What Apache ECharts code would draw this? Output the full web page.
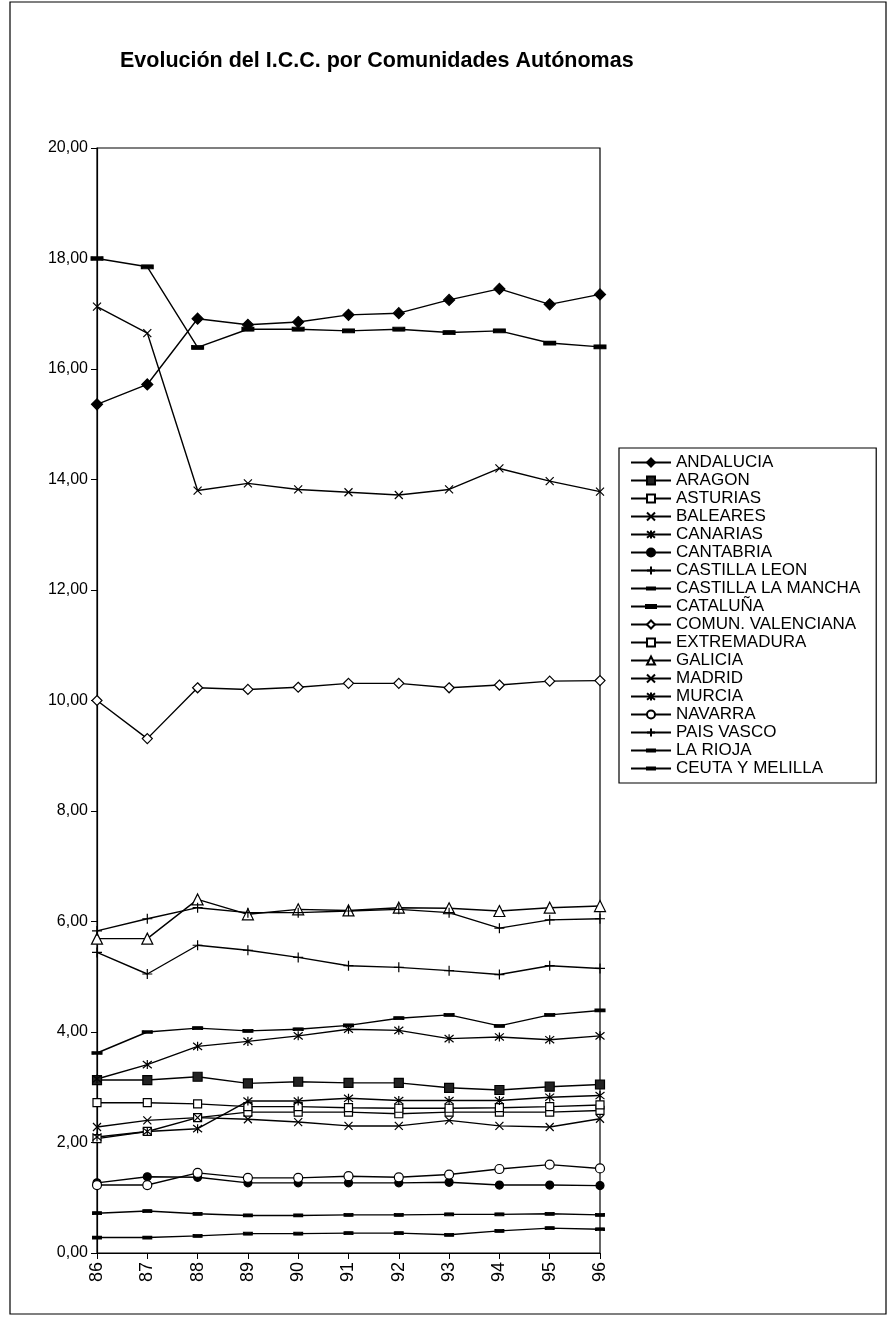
<!DOCTYPE html>
<html>
<head>
<meta charset="utf-8">
<script src="https://cdn.jsdelivr.net/npm/echarts@6/dist/echarts.min.js"></script>
<style>
html,body{margin:0;padding:0;background:#fff;}
#chart{width:888px;height:1317px;}
</style>
</head>
<body>
<div id="chart"></div>
<script>
const years = ['86','87','88','89','90','91','92','93','94','95','96'];
const yTicks = [0, 20, 2];

const andalucia      = [15.36, 15.72, 16.91, 16.80, 16.85, 16.98, 17.01, 17.25, 17.45, 17.17, 17.35];
const aragon         = [3.13, 3.13, 3.19, 3.07, 3.10, 3.08, 3.08, 2.99, 2.95, 3.01, 3.05];
const asturias       = [2.07, 2.20, 2.45, 2.55, 2.55, 2.55, 2.52, 2.55, 2.55, 2.55, 2.58];
const baleares       = [17.13, 16.65, 13.80, 13.93, 13.82, 13.77, 13.72, 13.82, 14.20, 13.97, 13.78];
const canarias       = [3.15, 3.41, 3.74, 3.83, 3.93, 4.05, 4.03, 3.88, 3.91, 3.86, 3.93];
const cantabria      = [1.27, 1.38, 1.37, 1.27, 1.27, 1.27, 1.27, 1.28, 1.23, 1.23, 1.22];
const castillaLeon   = [5.44, 5.05, 5.57, 5.48, 5.35, 5.20, 5.17, 5.11, 5.04, 5.20, 5.15];
const castillaMancha = [3.62, 4.00, 4.07, 4.02, 4.05, 4.12, 4.25, 4.31, 4.11, 4.31, 4.39];
const cataluna       = [18.00, 17.85, 16.39, 16.72, 16.72, 16.69, 16.72, 16.66, 16.69, 16.47, 16.40];
const valenciana     = [10.00, 9.31, 10.23, 10.20, 10.24, 10.31, 10.31, 10.23, 10.28, 10.35, 10.36];
const extremadura    = [2.72, 2.72, 2.70, 2.65, 2.65, 2.63, 2.62, 2.62, 2.63, 2.65, 2.68];
const galicia        = [5.69, 5.69, 6.40, 6.13, 6.22, 6.20, 6.25, 6.24, 6.19, 6.25, 6.28];
const madrid         = [2.28, 2.40, 2.45, 2.42, 2.37, 2.30, 2.30, 2.40, 2.30, 2.28, 2.43];
const murcia         = [2.10, 2.20, 2.25, 2.75, 2.75, 2.80, 2.76, 2.76, 2.76, 2.82, 2.85];
const navarra        = [1.23, 1.23, 1.45, 1.36, 1.36, 1.39, 1.37, 1.42, 1.52, 1.60, 1.53];
const paisVasco      = [5.83, 6.05, 6.25, 6.16, 6.16, 6.19, 6.22, 6.16, 5.88, 6.03, 6.05];
const laRioja        = [0.72, 0.76, 0.71, 0.68, 0.68, 0.69, 0.69, 0.70, 0.70, 0.71, 0.69];
const ceutaMelilla   = [0.28, 0.28, 0.31, 0.35, 0.35, 0.36, 0.36, 0.33, 0.40, 0.45, 0.43];

const names = ['ANDALUCIA','ARAGON','ASTURIAS','BALEARES','CANARIAS','CANTABRIA','CASTILLA LEON',
  'CASTILLA LA MANCHA','CATALUÑA','COMUN. VALENCIANA','EXTREMADURA','GALICIA','MADRID','MURCIA',
  'NAVARRA','PAIS VASCO','LA RIOJA','CEUTA Y MELILLA'];
const values = [andalucia, aragon, asturias, baleares, canarias, cantabria, castillaLeon,
  castillaMancha, cataluna, valenciana, extremadura, galicia, madrid, murcia,
  navarra, paisVasco, laRioja, ceutaMelilla];

const X = 'path://M0,0L10,10M10,0L0,10';
const AST = 'path://M1,1L9,9M9,1L1,9M5,0L5,10';
const PLUS = 'path://M5,0L5,10M0,5L10,5';
const markers = [
  ['diamond', 11, '#000'],
  ['rect', 9, '#222'],
  ['rect', 8, '#fff'],
  [X, 8, 'none'],
  [AST, 9, 'none'],
  ['circle', 8, '#000'],
  [PLUS, 10, 'none'],
  ['rect', [9, 3], '#000'],
  ['rect', [11, 4], '#000'],
  ['diamond', 10, '#fff'],
  ['rect', 8, '#fff'],
  ['triangle', 11, '#fff'],
  [X, 8, 'none'],
  [AST, 9, 'none'],
  ['circle', 9, '#fff'],
  [PLUS, 10, 'none'],
  ['rect', [8, 3], '#000'],
  ['rect', [8, 3], '#000']
];
// legend icons for dash-marker series (line + short bar)
const dashIcon = {
  'CASTILLA LA MANCHA': 'path://M0,5L40,5M16,4L24,4L24,6L16,6Z',
  'CATALUÑA': 'path://M0,5L40,5M15,3.5L25,3.5L25,6.5L15,6.5Z',
  'LA RIOJA': 'path://M0,5L40,5M16,4L24,4L24,6L16,6Z',
  'CEUTA Y MELILLA': 'path://M0,5L40,5M16,4L24,4L24,6L16,6Z'
};

const FONT = '"Liberation Sans", Arial, sans-serif';

const series = names.map((n, i) => ({
  name: n,
  type: 'line',
  data: values[i],
  symbol: markers[i][0],
  symbolSize: markers[i][1],
  showAllSymbol: true,
  itemStyle: { color: markers[i][2], borderColor: '#000', borderWidth: 1.2 },
  lineStyle: { color: '#000', width: 1.4 },
  emphasis: { disabled: true },
  animation: false
}));

const legendData = names.map(n => dashIcon[n] ? { name: n, icon: dashIcon[n] } : { name: n });

const chart = echarts.init(document.getElementById('chart'), null, { renderer: 'canvas' });
chart.setOption({
  backgroundColor: '#fff',
  animation: false,
  title: {
    text: 'Evolución del I.C.C. por Comunidades Autónomas',
    left: 115, top: 45,
    textStyle: { fontFamily: FONT, fontWeight: 'bold', fontSize: 21.5, color: '#000' }
  },
  graphic: [{
    type: 'rect', shape: { x: 10, y: 2, width: 876, height: 1312 },
    style: { fill: 'none', stroke: '#000', lineWidth: 1.2 }, z: -1
  }],
  legend: {
    orient: 'vertical',
    left: 619, top: 448,
    padding: [6, 16, 6, 11],
    itemWidth: 40, itemHeight: 10, itemGap: 1,
    borderColor: '#000', borderWidth: 1.2,
    textStyle: { fontFamily: FONT, fontSize: 17, color: '#000' },
    data: legendData
  },
  grid: {
    left: 97, right: 288, top: 148, bottom: 64,
    show: true, borderColor: '#000', borderWidth: 1.2, backgroundColor: 'transparent'
  },
  xAxis: {
    type: 'category', data: years, boundaryGap: false,
    axisLine: { lineStyle: { color: '#000', width: 1.2 } },
    axisTick: { show: true, length: 6, lineStyle: { color: '#000' } },
    axisLabel: { rotate: 90, margin: 9, fontFamily: FONT, fontSize: 18, color: '#000' },
    splitLine: { show: false }
  },
  yAxis: {
    type: 'value', min: yTicks[0], max: yTicks[1], interval: yTicks[2],
    axisLine: { show: true, lineStyle: { color: '#000', width: 1.2 } },
    axisTick: { show: true, length: 6, lineStyle: { color: '#000' } },
    axisLabel: { margin: 9, fontFamily: FONT, fontSize: 16, color: '#000',
      formatter: v => v.toFixed(2).replace('.', ',') },
    splitLine: { show: false }
  },
  series: series
});
</script>
</body>
</html>
